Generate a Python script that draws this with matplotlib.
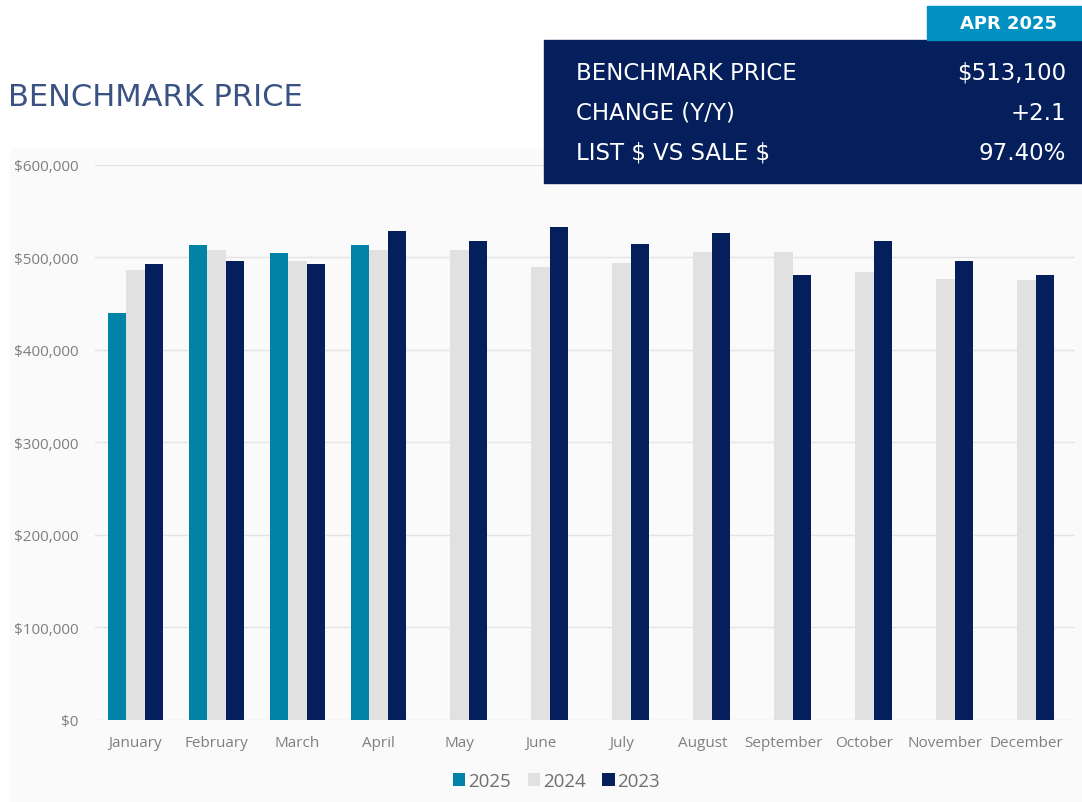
import numpy as np
import matplotlib.pyplot as plt
from matplotlib.patches import Rectangle
from matplotlib.ticker import FuncFormatter

months = ['January', 'February', 'March', 'April', 'May', 'June', 'July',
          'August', 'September', 'October', 'November', 'December']
price_2025 = [440400, 513700, 504700, 513100]
price_2024 = [485900, 508200, 496300, 508200, 507600, 489200, 493800,
              505700, 505400, 484800, 476500, 475700]
price_2023 = [492700, 496300, 492400, 528200, 517300, 532800, 514800,
              526000, 480800, 517300, 496000, 480800]
years = ['2025', '2024', '2023']
colors = ['#0083a6', '#e1e1e1', '#041f5c']

summary_labels = ['BENCHMARK PRICE', 'CHANGE (Y/Y)', r'LIST \$ VS SALE \$']
summary_values = [r'\$513,100', '+2.1', '97.40%']
period = 'APR 2025'

plt.rcParams['font.family'] = ['Open Sans', 'DejaVu Sans']

fig = plt.figure(figsize=(10.82, 8.03), dpi=100)
fig.patch.set_facecolor('white')

# light panel behind the chart
fig.patches.append(Rectangle((10 / 1082, 0), 1 - 10 / 1082, 653 / 803,
                             transform=fig.transFigure, color='#fafafa', zorder=-5))

ax = fig.add_axes([95 / 1082, 82.3 / 803, 980 / 1082, 554.7 / 803])
ax.set_zorder(1)
ax.set_facecolor('#fafafa')

x = np.arange(len(months))
w = 0.225
ax.bar(x[:len(price_2025)] - w, price_2025, w, color=colors[0], label=years[0], zorder=3)
ax.bar(x, price_2024, w, color=colors[1], label=years[1], zorder=3)
ax.bar(x + w, price_2023, w, color=colors[2], label=years[2], zorder=3)

ax.set_xlim(-0.5, 11.6)
ax.set_ylim(0, 600000)
ax.set_yticks(np.arange(0, 600001, 100000))
ax.yaxis.set_major_formatter(FuncFormatter(lambda v, p: f'${v:,.0f}'))
ax.set_xticks(x)
ax.set_xticklabels(months)
ax.grid(axis='y', color='#e4e4e4', linewidth=1, zorder=0)
for s in ax.spines.values():
    s.set_visible(False)
ax.tick_params(length=0, colors='#7f7f7f', labelsize=11)
ax.tick_params(axis='y', pad=12)
ax.tick_params(axis='x', pad=11)

leg = ax.legend(loc='upper center', bbox_to_anchor=(0.471, -0.064), ncol=3,
                frameon=False, fontsize=13.5, handlelength=0.65, handleheight=0.65,
                handletextpad=0.15, columnspacing=0.9, labelcolor='#6f6f6f')

# title
fig.text(8 / 1082, 1 - 97 / 803, 'BENCHMARK PRICE', fontsize=22, color='#3a5283',
         va='center', ha='left', family=['DejaVu Sans'])

# summary box
fig.patches.append(Rectangle((544 / 1082, 1 - 184 / 803), 538 / 1082, 143 / 803,
                             transform=fig.transFigure, color='#051f5c', zorder=5))
fig.patches.append(Rectangle((927 / 1082, 1 - 41 / 803), 155 / 1082, 34 / 803,
                             transform=fig.transFigure, color='#0090c1', zorder=5))
fig.text(1008 / 1082, 1 - 24 / 803, period, color='white', fontsize=13,
         fontweight='bold', ha='center', va='center', zorder=6,
         family=['DejaVu Sans'])
for i, (lab, val) in enumerate(zip(summary_labels, summary_values)):
    yy = 1 - (73 + 40 * i) / 803
    fig.text(576 / 1082, yy, lab, color='white', fontsize=16.5, ha='left', va='center',
             zorder=6, family=['DejaVu Sans'])
    fig.text(1066 / 1082, yy, val, color='white', fontsize=16.5, ha='right', va='center',
             zorder=6, family=['DejaVu Sans'])

fig.savefig('out.png', dpi=100, facecolor=fig.get_facecolor())
